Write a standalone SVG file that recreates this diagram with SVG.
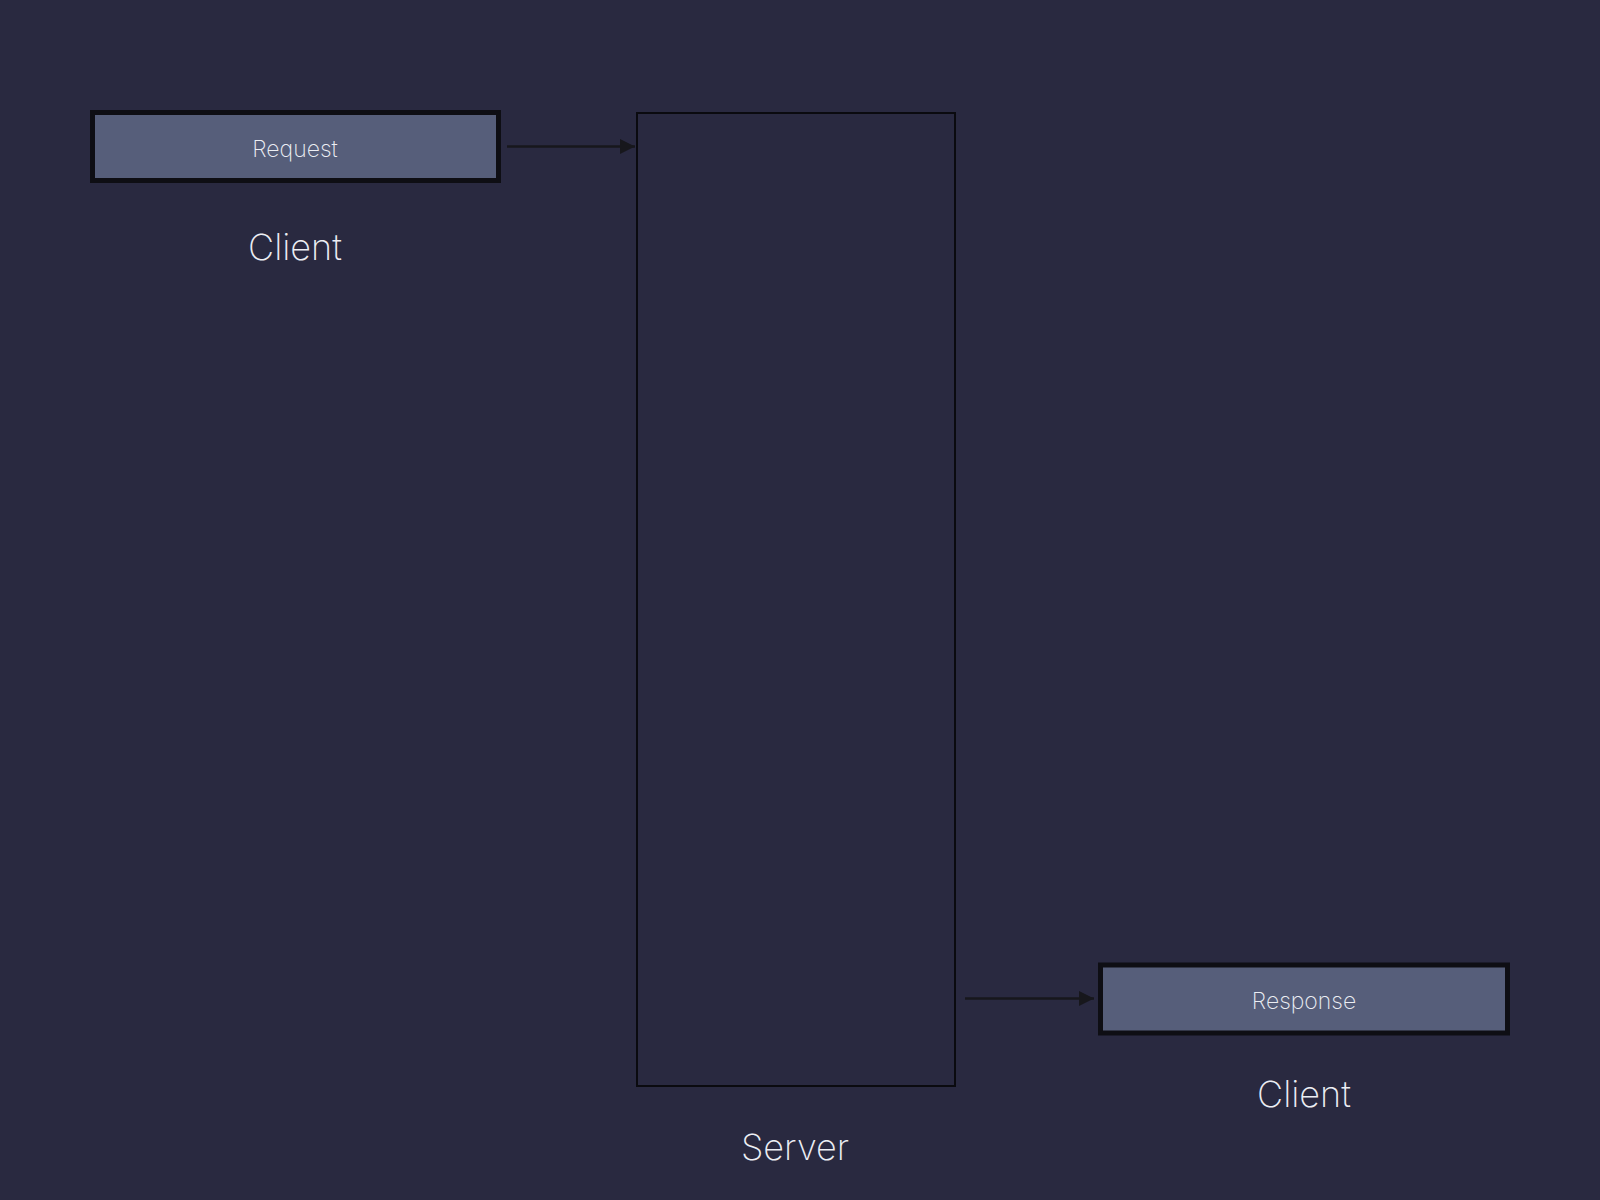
<svg xmlns="http://www.w3.org/2000/svg" width="1600" height="1200" viewBox="0 0 1600 1200">
<defs>
<style>
.box{fill:#565e7a;stroke:#0e0e14;stroke-width:5}
.server{fill:#292940;stroke:#0a0a0f;stroke-width:2}
.lbl{font-family:Inter,"Noto Sans",sans-serif;font-weight:200;fill:#eceef4;text-anchor:middle}
.small{font-size:23px}
.big{font-size:36px}
.conn{stroke:#17171c;stroke-width:2.5;fill:none}
</style>
<marker id="arr" viewBox="0 0 10 10" refX="10" refY="5" markerWidth="6" markerHeight="6" markerUnits="strokeWidth" orient="auto">
<path d="M0,0 L10,5 L0,10 z" fill="#17171c"/>
</marker>
</defs>
<rect width="1600" height="1200" fill="#292940"/>
<g id="request">
<rect class="box" x="92.5" y="112.5" width="406" height="68"/>
<text class="lbl small" x="295" y="157">Request</text>
</g>
<g id="client1">
<text class="lbl big" x="295" y="260">Client</text>
</g>
<g id="server">
<rect class="server" x="637" y="113" width="318" height="973"/>
<text class="lbl big" x="795" y="1160">Server</text>
</g>
<g id="response">
<rect class="box" x="1100.5" y="965" width="407" height="68"/>
<text class="lbl small" x="1304" y="1009">Response</text>
</g>
<g id="client2">
<text class="lbl big" x="1304" y="1107">Client</text>
</g>
<g id="connectors">
<line class="conn" x1="507" y1="146.5" x2="635" y2="146.5" marker-end="url(#arr)"/>
<line class="conn" x1="965" y1="998.5" x2="1094" y2="998.5" marker-end="url(#arr)"/>
</g>
</svg>
